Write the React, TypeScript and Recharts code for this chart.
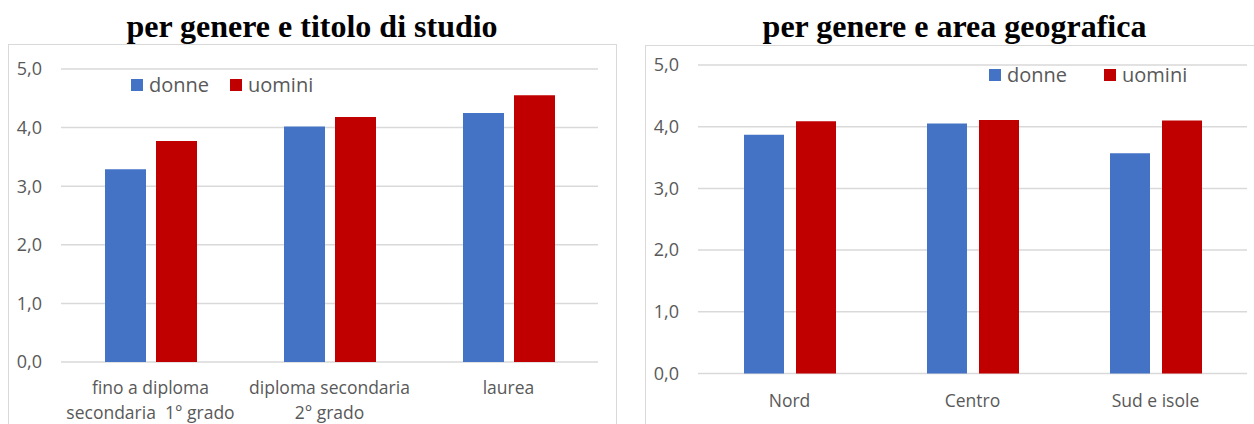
import { BarChart, Bar, XAxis, YAxis, CartesianGrid, Legend } from 'recharts'

const educationCategories = ['fino a diploma\nsecondaria  1° grado', 'diploma secondaria\n2° grado', 'laurea']
const educationDonne = [3.29, 4.02, 4.25]
const educationUomini = [3.77, 4.18, 4.55]

const areaCategories = ['Nord', 'Centro', 'Sud e isole']
const areaDonne = [3.87, 4.05, 3.57]
const areaUomini = [4.09, 4.11, 4.1]

const yTicks = [0, 1, 2, 3, 4, 5]

const BLUE = '#4472c4'
const RED = '#c00000'
const GRID = '#d9d9d9'
const TEXT = '#595959'
const FONT = '"Open Sans", "Noto Sans", sans-serif'

const fmt = (v: number) => v.toFixed(1).replace('.', ',')

function CategoryTick({ x, y, payload, dy }: any) {
  const lines = String(payload.value).split('\n')
  return (
    <text x={x} y={y + dy} textAnchor="middle" fill={TEXT} fontSize={17.5} fontFamily={FONT} style={{ whiteSpace: 'pre' }}>
      {lines.map((l, i) => (
        <tspan key={i} x={x} dy={i === 0 ? 0 : 25}>{l}</tspan>
      ))}
    </text>
  )
}

function LegendContent({ payload, gap }: any) {
  return (
    <div style={{ display: 'flex', alignItems: 'center', fontFamily: FONT, fontSize: 20, color: TEXT, lineHeight: '20px' }}>
      {(payload || []).map((p: any, i: number) => (
        <div key={i} style={{ display: 'flex', alignItems: 'center', marginLeft: i === 0 ? 0 : gap }}>
          <span style={{ display: 'inline-block', width: 12, height: 12, background: p.color, marginRight: 6 }} />
          <span>{p.value}</span>
        </div>
      ))}
    </div>
  )
}

function Panel({ categories, donne, uomini, width, margin, xHeight, barSize, barGap, tickDy, legendPos, legendGap }: any) {
  const data = categories.map((c: string, i: number) => ({ name: c, donne: donne[i], uomini: uomini[i] }))
  return (
    <BarChart width={width} height={424} data={data} margin={margin} barSize={barSize} barGap={barGap}>
      <CartesianGrid vertical={false} stroke={GRID} strokeWidth={1.5} />
      <XAxis
        dataKey="name"
        axisLine={false}
        tickLine={false}
        tickSize={0}
        tickMargin={0}
        height={xHeight}
        interval={0}
        tick={<CategoryTick dy={tickDy} />}
      />
      <YAxis
        domain={[0, 5]}
        ticks={yTicks}
        axisLine={false}
        tickLine={false}
        tickSize={0}
        tickMargin={19}
        width={40}
        tickFormatter={fmt}
        tick={{ fill: TEXT, fontSize: 18, fontFamily: FONT }}
      />
      <Legend
        layout="horizontal"
        verticalAlign="middle"
        align="center"
        wrapperStyle={{ top: legendPos.top, left: legendPos.left, width: 260 }}
        content={<LegendContent gap={legendGap} />}
      />
      <Bar dataKey="donne" name="donne" fill={BLUE} isAnimationActive={false} />
      <Bar dataKey="uomini" name="uomini" fill={RED} isAnimationActive={false} />
    </BarChart>
  )
}

export default function App() {
  return (
    <div style={{ position: 'absolute', left: 0, top: 0, width: 1254, height: 424, background: '#fff', overflow: 'hidden' }}>
      <div style={{ position: 'absolute', left: 8, top: 44, width: 607, height: 420, border: `1px solid ${GRID}` }} />
      <div style={{ position: 'absolute', left: 645, top: 45, width: 640, height: 420, border: `1px solid ${GRID}` }} />
      <div style={{ position: 'absolute', left: 0, width: 624, top: 11, textAlign: 'center', fontFamily: '"Liberation Serif", serif', fontWeight: 'bold', fontSize: 32, lineHeight: '31px', color: '#000' }}>
        per genere e titolo di studio
      </div>
      <div style={{ position: 'absolute', left: 620, width: 669, top: 11, textAlign: 'center', fontFamily: '"Liberation Serif", serif', fontWeight: 'bold', fontSize: 32, lineHeight: '31px', color: '#000' }}>
        per genere e area geografica
      </div>
      <div style={{ position: 'absolute', left: 0, top: 0 }}>
        <Panel
          categories={educationCategories}
          donne={educationDonne}
          uomini={educationUomini}
          width={620}
          margin={{ top: 69, right: 22, bottom: 7, left: 21 }}
          xHeight={55}
          barSize={41}
          barGap={10}
          tickDy={32}
          legendPos={{ top: 75, left: 131 }}
          legendGap={21}
        />
      </div>
      <div style={{ position: 'absolute', left: 620, top: 0 }}>
        <Panel
          categories={areaCategories}
          donne={areaDonne}
          uomini={areaUomini}
          width={634}
          margin={{ top: 65, right: 7, bottom: 5.5, left: 38 }}
          xHeight={45}
          barSize={40}
          barGap={12}
          tickDy={33}
          legendPos={{ top: 65, left: 369 }}
          legendGap={37}
        />
      </div>
    </div>
  )
}
